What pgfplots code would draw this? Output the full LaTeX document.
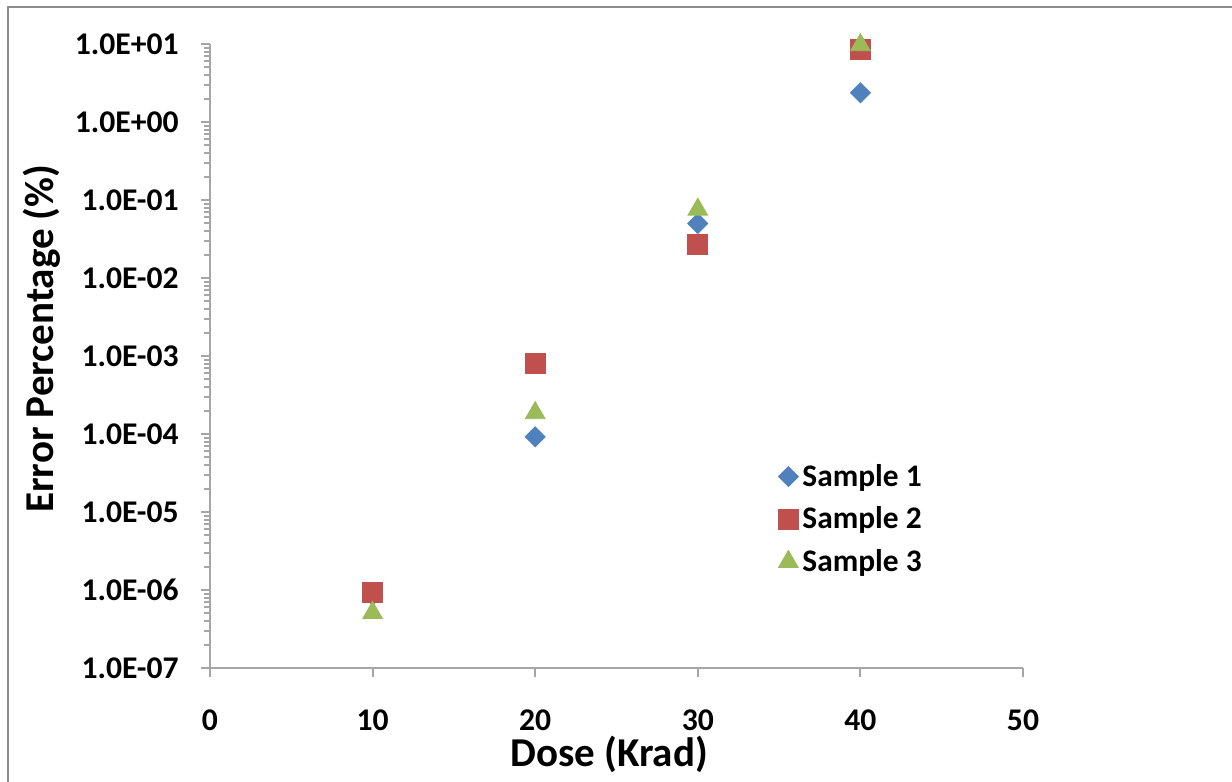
\documentclass[border=0pt]{standalone}
\usepackage{pgfplots}
\pgfplotsset{compat=1.18}
\usepackage{fontspec}
\setmainfont{Carlito}

\definecolor{sOne}{HTML}{4F81BD}
\definecolor{sTwo}{HTML}{C0504D}
\definecolor{sThree}{HTML}{9BBB59}
\definecolor{axgray}{HTML}{A6A6A6}
\definecolor{framegray}{HTML}{8C8C8C}

\begin{document}
\begin{tikzpicture}
\useasboundingbox (0pt,0pt) rectangle (616pt,-391pt);
% chart frame
\draw[framegray, line width=1pt] (4pt,-3.5pt) rectangle (700pt,-500pt);

\begin{axis}[
  at={(105pt,-334pt)}, anchor=south west,
  scale only axis, width=406.5pt, height=312pt,
  ymode=log,
  xmin=0, xmax=50, ymin=1e-7, ymax=1e1,
  xtick={0,10,20,30,40,50},
  ytick={1e-7,1e-6,1e-5,1e-4,1e-3,1e-2,1e-1,1e0,1e1},
  yticklabels={1.0E-07,1.0E-06,1.0E-05,1.0E-04,1.0E-03,1.0E-02,1.0E-01,1.0E+00,1.0E+01},
  minor tick num=0,
  log ticks with fixed point=false,
  axis x line=bottom, axis y line=left,
  axis line style={-, axgray, line width=1pt},
  tick style={axgray, line width=1pt},
  tick align=outside, major tick length=4.5pt,
  /pgf/number format/assume math mode=true,
  ticklabel style={font=\bfseries\fontsize{15.8}{18}\selectfont, text=black},
  yticklabel style={anchor=east, inner sep=0pt, xshift=-11pt},
  xticklabel style={anchor=north, inner sep=0pt, yshift=-16pt},
  xlabel={Dose (Krad)},
  ylabel={Error Percentage (\%)},
  label style={font=\bfseries\fontsize{20.5}{24}\selectfont},
  xlabel style={at={(axis description cs:0.491,-0.139)}, anchor=center},
  ylabel style={at={(axis description cs:-0.2066,0.528)}, anchor=center, rotate=0},
  legend style={draw=none, fill=none, inner sep=0pt,
    at={(axis description cs:0.6986,0.334)}, anchor=north west,
    font=\bfseries\fontsize{15.7}{18}\selectfont, row sep=4.8pt},
  legend cell align=left,
  legend image code/.code={\draw[#1] plot coordinates {(5pt,0pt)};},
  clip=false,
]
% diamonds are squares turned by 45 degrees
\addplot[only marks, mark=square*, mark size=3.55pt, mark options={rotate=45}, color=sOne, fill=sOne]
  coordinates {(10,8.6e-7) (20,9.2e-5) (30,5.0e-2) (40,2.37)};
\addlegendentry{Sample 1}
\addplot[only marks, mark=square*, mark size=5pt, color=sTwo, fill=sTwo]
  coordinates {(10,9.3e-7) (20,8.1e-4) (30,2.73e-2) (40,8.6)};
\addlegendentry{Sample 2}
\addplot[only marks, mark=triangle*, mark size=5.7pt, color=sThree, fill=sThree]
  coordinates {(10,5.1e-7) (20,1.86e-4) (30,7.55e-2) (40,9.7)};
\addlegendentry{Sample 3}
\end{axis}
\end{tikzpicture}
\end{document}
